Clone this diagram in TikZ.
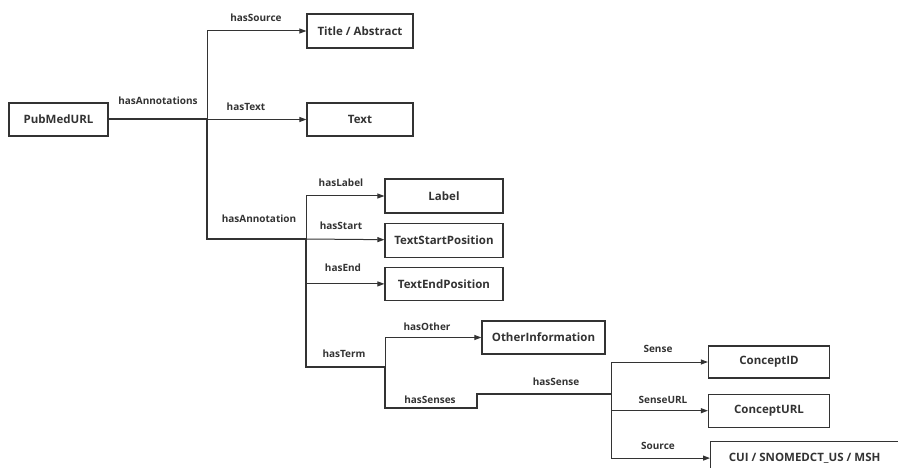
\documentclass[tikz,border=0pt]{standalone}
\usepackage{fontspec}
\setmainfont{Open Sans}
\usetikzlibrary{arrows.meta,positioning}
\definecolor{ink}{HTML}{333333}

\begin{document}
\begin{tikzpicture}[x=1pt,y=-1pt,>={Triangle[length=7pt,width=5pt]},every node/.style={text=ink},box/.style={draw=ink,line width=1.2pt,minimum height=33pt,inner sep=2pt,font=\fontsize{11.5}{13}\selectfont\bfseries},lbl/.style={font=\fontsize{10}{12}\selectfont\bfseries,inner sep=1pt},link/.style={draw=ink,line width=1pt},trunk/.style={draw=ink,line width=2pt}]
\useasboundingbox (0,0) rectangle (898,468);
% boxes
\node[box,minimum width=99pt] (pubmed) at (58.5,119.5) {PubMedURL};
\node[box,minimum width=106pt,minimum height=34pt] (titleabs) at (360,31) {Title / Abstract};
\node[box,minimum width=106pt] (text) at (360,119.5) {Text};
\node[box,minimum width=118pt,minimum height=34pt] (label) at (444,196) {Label};
\node[box,minimum width=118pt,minimum height=34pt,below=9pt of label] (startpos) {TextStartPosition};
\node[box,minimum width=118pt,below=9pt of startpos] (endpos) {TextEndPosition};
\node[box,minimum width=123pt] (other) at (543.5,337.5) {OtherInformation};
\node[box,minimum width=121pt,minimum height=32pt] (conceptid) at (769,362) {ConceptID};
\node[box,minimum width=121pt,below=15pt of conceptid] (concepturl) {ConceptURL};
\node[box,minimum width=188pt,anchor=north west] (cui) at (710,441) {CUI / SNOMEDCT\_US / MSH};
% branch points
\coordinate (hub) at (207,119.5);
\coordinate (annot) at (306,239);
\coordinate (term) at (385,367);
\coordinate (senses) at (477,408);
\coordinate (sense) at (611,394);
% main path
\draw[trunk] (pubmed.east) -- (hub) |- (annot) |- (term) |- (senses) |- (sense);
% branches
\draw[link,->] (hub) |- (titleabs);
\draw[link,->] (hub) -- (text);
\draw[link,->] (annot) |- (label);
\draw[link,->] (annot) -- (startpos);
\draw[link,->] (annot) |- (endpos);
\draw[link,->] (term) |- (other);
\draw[link,->] (sense) |- (conceptid);
\draw[link,->] (sense) |- (concepturl);
\draw[link,->] (sense) |- (cui);
% labels
\node[lbl] (lannots) at (158,101) {hasAnnotations};
\node[lbl] (lsource) at (256,18) {hasSource};
\node[lbl] (ltext) at (246,107) {hasText};
\node[lbl] (lannot) at (259,219) {hasAnnotation};
\node[lbl] (llabel) at (341,183) {hasLabel};
\node[lbl] (lstart) at (341,226) {hasStart};
\node[lbl] (lend) at (343,268) {hasEnd};
\node[lbl] (lterm) at (344,354) {hasTerm};
\node[lbl] (lother) at (427,327) {hasOther};
\node[lbl] (lsenses) at (430,400) {hasSenses};
\node[lbl] (lsense) at (556,382) {hasSense};
\node[lbl] (lsns) at (658,349) {Sense};
\node[lbl] (lsnsurl) at (663,400) {SenseURL};
\node[lbl] (lsrc) at (658,446) {Source};
\end{tikzpicture}
\end{document}
